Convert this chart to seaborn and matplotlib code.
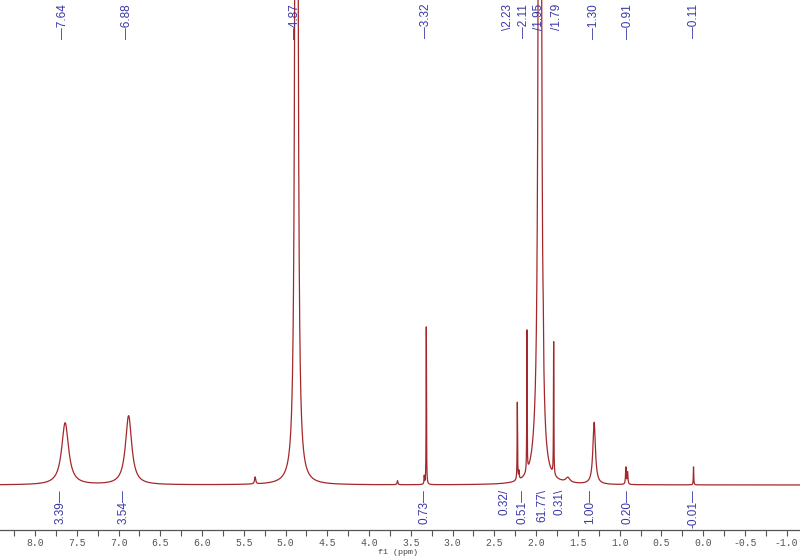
import numpy as np
import pandas as pd
import matplotlib
matplotlib.use("Agg")
import matplotlib.pyplot as plt
import matplotlib.transforms as mtransforms
from matplotlib.ticker import MultipleLocator, FuncFormatter
from matplotlib import font_manager
import seaborn as sns

# ---------------- data ----------------
# Lorentzian peak list: centre (ppm), apparent height, half width (ppm)
peak_ppm = [7.64, 6.88, 5.365, 4.87, 3.66, 3.34, 3.315, 2.225, 2.205, 2.11,
            1.955, 2.0, 1.915, 1.79, 1.62, 1.305, 0.925, 0.905, 0.115]
peak_height = [62, 69, 7, 6000, 4, 8, 158, 78, 8, 141,
               6000, 15, 30, 133, 5, 62, 17, 12, 18]
peak_width = [0.05, 0.045, 0.008, 0.0065, 0.006, 0.003, 0.0025, 0.003, 0.004, 0.0025,
              0.0065, 0.06, 0.004, 0.0025, 0.03, 0.018, 0.005, 0.005, 0.003]

# peak pick labels (position of label, text)
pick_pos = [7.66, 6.90, 4.89, 3.32, 2.34, 2.14, 1.96, 1.75, 1.31, 0.90, 0.11]
pick_text = ["7.64", "6.88", "4.87", "3.32", "2.23", "2.11", "1.95", "1.79", "1.30", "0.91", "0.11"]
pick_mark = ["—", "—", "—", "—", "\\", "—", "/", "/", "—", "—", "—"]

# integral labels
integ_pos = [7.69, 6.94, 3.34, 2.38, 2.16, 1.92, 1.72, 1.36, 0.91, 0.12]
integ_text = ["3.39", "3.54", "0.73", "0.32", "0.51", "61.77", "0.31", "1.00", "0.20", "-0.01"]
integ_mark = ["—", "—", "—", "/", "—", "\\", "\\", "—", "—", "—"]

xtick_major = 0.5
xtick_minor = 0.25

# ---------------- build spectrum ----------------
ppm = np.linspace(8.45, -1.2, 40000)
intensity = np.zeros_like(ppm)
for c, h, w in zip(peak_ppm, peak_height, peak_width):
    intensity += h * w**2 / ((ppm - c) ** 2 + w**2)
df = pd.DataFrame({"ppm": ppm, "intensity": intensity})

# ---------------- style ----------------
sns.set_theme(style="white")
avail = {f.name for f in font_manager.fontManager.ttflist}
if "Liberation Sans Narrow" in avail:
    lab_family = ["Liberation Sans Narrow", "DejaVu Sans"]
    lab_size = 10
else:
    lab_family = ["Liberation Sans", "DejaVu Sans"]
    lab_size = 8.5
mono = ["Liberation Mono", "DejaVu Sans Mono"]
plt.rcParams["font.family"] = ["DejaVu Sans"]

line_color = "#a3282b"
label_color = "#3838a8"

fig = plt.figure(figsize=(8, 5.58), dpi=100)
ax = fig.add_axes([0, 28 / 558, 1, 530 / 558])

sns.lineplot(data=df, x="ppm", y="intensity", ax=ax, color=line_color,
             linewidth=0.9, estimator=None, sort=False)

ax.set_xlim(8.42, -1.16)
ax.set_ylim(-45, 485)

for s in ["left", "right", "top"]:
    ax.spines[s].set_visible(False)
ax.spines["bottom"].set_color("#555555")
ax.spines["bottom"].set_linewidth(0.9)
ax.set_yticks([])
ax.set_ylabel("")
ax.set_xlabel("")
ax.xaxis.set_major_locator(MultipleLocator(xtick_major))
ax.xaxis.set_minor_locator(MultipleLocator(xtick_minor))
ax.tick_params(axis="x", which="major", direction="out", length=4, width=0.8,
               color="#555555", labelsize=7, labelcolor="#555555", pad=2, bottom=True)
ax.tick_params(axis="x", which="minor", direction="out", length=4, width=0.8,
               color="#555555", bottom=True)
ax.xaxis.set_major_formatter(FuncFormatter(lambda v, p: "0.0" if abs(v) < 1e-9 else f"{v:.1f}"))
for lab in ax.get_xticklabels():
    lab.set_family(mono)

fig.text(398 / 800, 1 - 553 / 558, "f1 (ppm)", ha="center", va="center",
         fontsize=6, family=mono, color="#444444")

trans = mtransforms.blended_transform_factory(ax.transData, ax.transAxes)
for x, t, m in zip(pick_pos, pick_text, pick_mark):
    ax.text(x, 1 - 4 / 530, m + t, transform=trans, rotation=90, ha="center", va="top",
            fontsize=lab_size, color=label_color, family=lab_family)

for x, t, m in zip(integ_pos, integ_text, integ_mark):
    ax.text(x, -4, t + m, rotation=90, ha="center", va="top",
            fontsize=lab_size, color=label_color, family=lab_family)

fig.savefig("out.png", dpi=100)
